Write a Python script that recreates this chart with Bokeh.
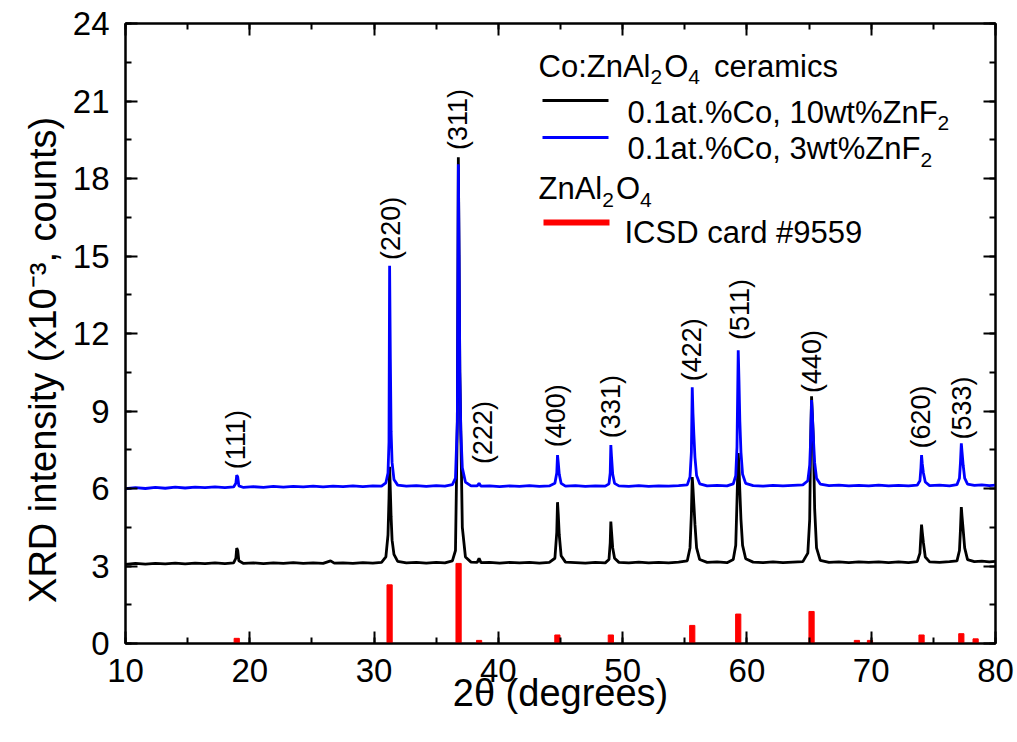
import math
from bokeh.plotting import figure
from bokeh.models import (Range1d, LinearAxis, SingleIntervalTicker, Label)
from bokeh.core.properties import value
from bokeh.embed import file_html
from bokeh.resources import INLINE

# ---------------- data ----------------
# 0.1at.%Co, 3wt%ZnF2 (blue)
blue_x = [10.0, 10.8, 11.6, 12.4, 13.2, 14.0, 14.8, 15.6, 16.4, 17.2, 18.0, 18.7, 18.88, 18.95, 19.03, 19.12,
          19.5, 20.3, 21.1, 21.9, 22.7, 23.5, 24.3, 25.1, 25.9, 26.7, 27.5, 28.3, 29.1, 29.9, 30.6, 30.95,
          31.12, 31.2, 31.25, 31.31, 31.37, 31.45, 31.6, 31.9, 32.6, 33.4, 34.2, 35.0, 35.7, 36.3, 36.55,
          36.7, 36.78, 36.84, 36.9, 36.98, 37.1, 37.35, 37.8, 38.3, 38.45, 38.6, 39.3, 40.1, 40.9, 41.7,
          42.5, 43.3, 44.1, 44.55, 44.7, 44.76, 44.82, 44.9, 45.05, 45.4, 46.2, 47.0, 47.8, 48.6, 48.9,
          49.0, 49.05, 49.11, 49.2, 49.35, 49.7, 50.5, 51.3, 52.1, 52.9, 53.7, 54.5, 55.2, 55.42, 55.53,
          55.6, 55.66, 55.73, 55.82, 55.95, 56.2, 56.8, 57.6, 58.4, 58.9, 59.1, 59.2, 59.3, 59.36, 59.43,
          59.52, 59.65, 59.9, 60.5, 61.3, 62.1, 62.9, 63.7, 64.5, 64.9, 65.05, 65.13, 65.2, 65.26, 65.34,
          65.45, 65.6, 65.9, 66.6, 67.4, 68.2, 69.0, 69.8, 70.6, 71.4, 72.2, 73.0, 73.7, 73.92, 74.0,
          74.05, 74.11, 74.2, 74.35, 74.7, 75.5, 76.3, 76.9, 77.1, 77.18, 77.25, 77.31, 77.4, 77.52,
          77.75, 78.3, 78.9, 79.5, 80.0]
blue_y = [5.99, 6.03, 6.00, 6.04, 6.01, 6.05, 6.02, 6.05, 6.03, 6.06, 6.03, 6.06, 6.20, 6.52, 6.45, 6.10,
          6.04, 6.07, 6.04, 6.08, 6.05, 6.08, 6.06, 6.09, 6.06, 6.09, 6.07, 6.10, 6.07, 6.10, 6.09, 6.22,
          6.60, 7.80, 14.62, 11.00, 8.20, 7.00, 6.35, 6.13, 6.09, 6.11, 6.08, 6.11, 6.09, 6.15, 6.40,
          8.60, 18.55, 15.00, 10.50, 8.20, 6.80, 6.25, 6.10, 6.10, 6.20, 6.09, 6.10, 6.07, 6.10, 6.08,
          6.11, 6.08, 6.10, 6.20, 6.60, 7.29, 7.00, 6.55, 6.20, 6.09, 6.11, 6.08, 6.10, 6.09, 6.18,
          6.60, 7.68, 7.20, 6.55, 6.20, 6.10, 6.08, 6.11, 6.08, 6.10, 6.09, 6.11, 6.14, 6.45, 7.40,
          9.92, 8.90, 8.10, 7.20, 6.50, 6.18, 6.10, 6.12, 6.10, 6.18, 6.50, 7.60, 11.35, 10.20, 8.60,
          7.40, 6.55, 6.20, 6.11, 6.09, 6.12, 6.10, 6.12, 6.14, 6.30, 6.90, 7.90, 9.42, 8.90, 8.00,
          7.00, 6.40, 6.17, 6.11, 6.13, 6.10, 6.12, 6.10, 6.13, 6.10, 6.12, 6.10, 6.13, 6.30, 6.80,
          7.29, 6.95, 6.60, 6.25, 6.11, 6.13, 6.10, 6.15, 6.40, 7.00, 7.75, 7.40, 6.90, 6.40,
          6.17, 6.12, 6.14, 6.11, 6.13]

# 0.1at.%Co, 10wt%ZnF2 (black)
black_x = [10.0, 10.8, 11.6, 12.4, 13.2, 14.0, 14.8, 15.6, 16.4, 17.2, 18.0, 18.7, 18.88, 18.95, 19.03, 19.12,
           19.5, 20.3, 21.1, 21.9, 22.7, 23.5, 24.3, 25.1, 25.9, 26.5, 26.8, 27.5, 28.3, 29.1, 29.9, 30.6,
           30.95, 31.12, 31.2, 31.25, 31.31, 31.37, 31.45, 31.6, 31.9, 32.6, 33.4, 34.2, 35.0, 35.7, 36.3,
           36.55, 36.7, 36.78, 36.84, 36.9, 36.98, 37.1, 37.35, 37.8, 38.3, 38.45, 38.6, 39.3, 40.1, 40.9,
           41.7, 42.5, 43.3, 44.1, 44.55, 44.7, 44.76, 44.82, 44.9, 45.05, 45.4, 46.2, 47.0, 47.8, 48.6,
           48.9, 49.0, 49.05, 49.11, 49.2, 49.35, 49.7, 50.5, 51.3, 52.1, 52.9, 53.7, 54.5, 55.2, 55.42,
           55.53, 55.6, 55.66, 55.73, 55.82, 55.95, 56.2, 56.8, 57.6, 58.4, 58.9, 59.1, 59.2, 59.3, 59.36,
           59.43, 59.52, 59.65, 59.9, 60.5, 61.3, 62.1, 62.9, 63.7, 64.5, 64.9, 65.05, 65.13, 65.2, 65.26,
           65.34, 65.45, 65.6, 65.9, 66.6, 67.4, 68.2, 69.0, 69.8, 70.6, 71.4, 72.2, 73.0, 73.7, 73.92,
           74.0, 74.05, 74.11, 74.2, 74.35, 74.7, 75.5, 76.3, 76.9, 77.1, 77.18, 77.25, 77.31, 77.4,
           77.52, 77.75, 78.3, 78.9, 79.5, 80.0]
black_y = [3.06, 3.10, 3.07, 3.10, 3.08, 3.11, 3.08, 3.11, 3.09, 3.12, 3.09, 3.12, 3.30, 3.69, 3.60, 3.20,
           3.10, 3.12, 3.09, 3.12, 3.10, 3.13, 3.10, 3.12, 3.10, 3.20, 3.11, 3.12, 3.10, 3.13, 3.11, 3.14,
           3.35, 4.20, 5.60, 6.84, 5.90, 4.90, 4.00, 3.45, 3.18, 3.12, 3.14, 3.11, 3.14, 3.12, 3.20,
           3.60, 8.60, 18.82, 15.00, 10.50, 8.20, 4.50, 3.35, 3.15, 3.14, 3.30, 3.13, 3.14, 3.11, 3.14,
           3.12, 3.14, 3.11, 3.14, 3.30, 4.30, 5.47, 5.00, 4.20, 3.40, 3.15, 3.13, 3.11, 3.14, 3.12,
           3.25, 3.90, 4.72, 4.30, 3.70, 3.30, 3.14, 3.12, 3.15, 3.12, 3.14, 3.12, 3.15, 3.20, 3.70,
           5.00, 6.44, 6.00, 5.40, 4.60, 3.70, 3.25, 3.14, 3.16, 3.13, 3.25, 3.80, 5.50, 7.37, 6.80,
           5.90, 4.80, 3.80, 3.28, 3.15, 3.13, 3.16, 3.13, 3.15, 3.17, 3.50, 4.80, 7.90, 9.57, 8.90,
           8.00, 5.20, 3.70, 3.22, 3.14, 3.16, 3.13, 3.16, 3.14, 3.16, 3.13, 3.16, 3.13, 3.17, 3.50,
           4.20, 4.60, 4.30, 3.90, 3.35, 3.16, 3.14, 3.17, 3.20, 3.60, 4.40, 5.28, 4.90, 4.40,
           3.70, 3.25, 3.17, 3.19, 3.16, 3.18]

# ZnAl2O4 reference, ICSD card #9559 (red sticks)
icsd_pos = [18.95, 31.25, 36.8, 38.45, 44.75, 49.05, 55.6, 59.3, 65.2, 68.85, 69.9, 74.05, 77.25, 78.4]
icsd_int = [0.20, 2.27, 3.10, 0.12, 0.33, 0.33, 0.70, 1.14, 1.24, 0.12, 0.12, 0.33, 0.38, 0.18]

# Miller-index labels
hkl_text = ["(111)", "(220)", "(311)", "(222)", "(400)", "(331)", "(422)", "(511)", "(440)", "(620)", "(533)"]
hkl_x = [18.93, 31.4, 36.79, 38.8, 44.67, 49.05, 55.62, 59.45, 65.27, 73.97, 77.33]
hkl_y = [6.75, 14.85, 19.1, 6.95, 7.6, 7.95, 10.15, 11.75, 9.7, 7.55, 7.9]

x_title = "2θ (degrees)"
y_title = "XRD intensity (x10⁻³, counts)"
x_ticks_interval = 10
y_ticks_interval = 3

# ---------------- layout constants (page pixels) ----------------
FONT = "Liberation Sans"
FL, FR, FT, FB = 125, 995, 23, 643      # frame edges on the page
XMIN, XMAX, YMIN, YMAX = 10, 80, 0, 24
W, H = 1017, 742

def dx(px):
    return XMIN + (px - FL) * (XMAX - XMIN) / (FR - FL)

def dy(py):
    return YMIN + (FB - py) * (YMAX - YMIN) / (FB - FT)

p = figure(width=W, height=H, output_backend="svg", toolbar_location=None,
           x_range=Range1d(XMIN, XMAX), y_range=Range1d(YMIN, YMAX),
           x_axis_location=None, y_axis_location=None,
           min_border_left=FL, min_border_right=W - FR,
           min_border_top=FT, min_border_bottom=H - FB)
p.background_fill_color = "white"
p.border_fill_color = "white"
p.outline_line_color = "black"
p.outline_line_width = 2
p.xgrid.visible = False
p.ygrid.visible = False

def make_axis(ticker, show_labels):
    ax = LinearAxis(ticker=ticker)
    ax.axis_line_width = 2
    ax.axis_line_color = "black"
    ax.major_tick_line_width = 2
    ax.minor_tick_line_width = 2
    ax.major_tick_in = 12
    ax.major_tick_out = 0
    ax.minor_tick_in = 6
    ax.minor_tick_out = 0
    if show_labels:
        ax.major_label_text_font = FONT
        ax.major_label_text_font_size = "33px"
        ax.major_label_text_color = "black"
    else:
        ax.major_label_text_font_size = "1px"
        ax.major_label_text_color = None
        ax.major_label_standoff = 0
    return ax

xb = make_axis(SingleIntervalTicker(interval=x_ticks_interval, num_minor_ticks=2), True)
xb.major_label_standoff = 15
xb.axis_label = x_title
xb.axis_label_text_font = FONT
xb.axis_label_text_font_size = "38px"
xb.axis_label_text_font_style = "normal"
xb.axis_label_text_color = "black"
xb.axis_label_standoff = -13
p.add_layout(xb, "below")
xt = make_axis(SingleIntervalTicker(interval=x_ticks_interval, num_minor_ticks=2), False)
p.add_layout(xt, "above")
yl = make_axis(SingleIntervalTicker(interval=y_ticks_interval, num_minor_ticks=2), True)
yl.major_label_standoff = 16
yl.axis_label = y_title + "     "
yl.axis_label_text_font = FONT
yl.axis_label_text_font_size = "38px"
yl.axis_label_text_font_style = "normal"
yl.axis_label_text_color = "black"
yl.axis_label_standoff = 6
p.add_layout(yl, "left")
yr = make_axis(SingleIntervalTicker(interval=y_ticks_interval, num_minor_ticks=2), False)
p.add_layout(yr, "right")

# ---------------- data glyphs ----------------
p.vbar(x=icsd_pos, top=icsd_int, bottom=0, width=0.42, color="#ff0000")
p.line(black_x, black_y, line_color="black", line_width=2.8)
p.line(blue_x, blue_y, line_color="#0000ff", line_width=2.8)

p.text(x=hkl_x, y=hkl_y, text=hkl_text, angle=math.pi / 2,
       text_align="left", text_baseline="middle",
       text_font=value(FONT), text_font_size="27px", text_color="black")

# ---------------- rich text helper (legend) ----------------
ARIAL = {" ": 278, "!": 278, "#": 556, "%": 889, "(": 333, ")": 333, ",": 278, "-": 333, ".": 278,
         ":": 278, "A": 667, "C": 722, "D": 722, "F": 611, "I": 278, "O": 778, "R": 722, "S": 667,
         "X": 667, "Z": 611, "a": 556, "c": 500, "d": 556, "e": 556, "g": 556, "i": 222, "l": 222,
         "m": 833, "n": 556, "o": 556, "r": 333, "s": 500, "t": 278, "u": 556, "w": 722, "x": 500,
         "y": 500}

def tw(s, size):
    return sum(ARIAL.get(c, 556) for c in s) * size / 1000.0

def rich(pieces, px, py, size, small, drop):
    adv = 0.0
    for txt, kind in pieces:
        if kind == "gap":
            adv += txt
            continue
        fs = size if kind == "n" else small
        sh = 0 if kind == "n" else -drop
        p.add_layout(Label(x=XMIN, y=YMIN, x_offset=px - FL + adv, y_offset=FB - py + sh, text=txt,
                           text_font=FONT, text_font_size=f"{fs}px", text_color="black",
                           text_align="left", text_baseline="alphabetic"))
        adv += tw(txt, fs) + (2 if kind == "sub" else 0)

LEG = 31
SUB = 21
DROP = 11
rich([("Co:ZnAl", "n"), ("2", "sub"), ("O", "n"), ("4", "sub"), (12, "gap"), ("ceramics", "n")],
     538, 65.5, LEG, SUB, DROP)
rich([("0.1at.%Co, 10wt%ZnF", "n"), ("2", "sub")], 627, 111.5, LEG, SUB, DROP)
rich([("0.1at.%Co, 3wt%ZnF", "n"), ("2", "sub")], 627, 148, LEG, SUB, DROP)
rich([("ZnAl", "n"), ("2", "sub"), ("O", "n"), ("4", "sub")], 538, 188, LEG, SUB, DROP)
rich([("ICSD card #9559", "n")], 624, 231.5, LEG, SUB, DROP)

p.segment(x0=[dx(542)], y0=[dy(100)], x1=[dx(608)], y1=[dy(100)], line_color="black", line_width=3)
p.segment(x0=[dx(542)], y0=[dy(137)], x1=[dx(608)], y1=[dy(137)], line_color="#0000ff", line_width=3)
p.segment(x0=[dx(543)], y0=[dy(222)], x1=[dx(609)], y1=[dy(222)], line_color="#ff0000", line_width=6)

open("out.html", "w").write(file_html(p, INLINE))
